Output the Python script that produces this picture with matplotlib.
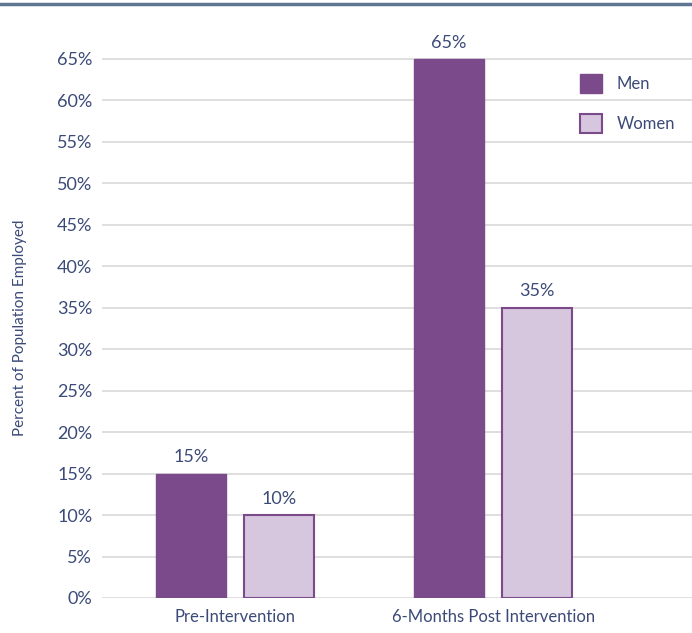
import matplotlib.pyplot as plt
import numpy as np
from matplotlib.lines import Line2D

plt.rcParams['font.family'] = ['Lato', 'DejaVu Sans']

# Data
categories = ["Pre-Intervention", "6-Months Post Intervention"]
men = [15, 65]
women = [10, 35]
yticks = list(range(0, 70, 5))

men_color = "#7b4a8a"
women_color = "#d6c6de"
text_color = "#3b4a78"
grid_color = "#d9d9d9"

fig = plt.figure(figsize=(6.92, 6.33), dpi=100)
ax = fig.add_axes([102 / 692, 35 / 633, 590 / 692, 564 / 633])

x = np.arange(len(categories))
bar_w = 0.271
off = 0.171

b1 = ax.bar(x - off, men, bar_w, color=men_color, edgecolor=men_color,
            linewidth=1, label="Men", zorder=3)
b2 = ax.bar(x + off, women, bar_w, color=women_color, edgecolor=men_color,
            linewidth=1.5, label="Women", zorder=3)

for bars, vals in ((b1, men), (b2, women)):
    for rect, v in zip(bars, vals):
        ax.text(rect.get_x() + rect.get_width() / 2, v + 1.0, f"{v}%",
                ha='center', va='bottom', fontsize=13, color=text_color)

ax.set_xlim(-0.516, 1.771)
ax.set_ylim(0, 68)
ax.set_yticks(yticks)
ax.set_yticklabels([f"{t}%" for t in yticks])
ax.yaxis.grid(True, color=grid_color, linewidth=1.2, zorder=0)
ax.set_axisbelow(True)
for s in ax.spines.values():
    s.set_visible(False)
ax.tick_params(axis='y', length=0, pad=7, labelsize=13, labelcolor=text_color)
ax.tick_params(axis='x', length=0, pad=8, labelsize=12, labelcolor=text_color)
ax.set_xticks(x)
ax.set_xticklabels(categories)

ax.set_ylabel("Percent of Population Employed", fontsize=11, color=text_color)
ax.yaxis.set_label_coords(-0.127, 0.48)

leg = ax.legend(loc='upper right', bbox_to_anchor=(0.997, 0.955), frameon=False,
                fontsize=12, handlelength=1.3, handleheight=1.35,
                labelspacing=1.25, handletextpad=0.9)
for t in leg.get_texts():
    t.set_color(text_color)

fig.add_artist(Line2D([0.0, 1.0], [1 - 4 / 633, 1 - 4 / 633],
                      transform=fig.transFigure, color="#5f7592", linewidth=2.5))

fig.savefig("out.png", dpi=100, facecolor='white')
